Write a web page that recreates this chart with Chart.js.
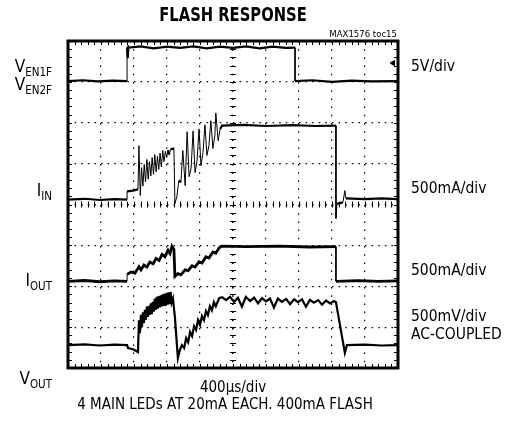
<!DOCTYPE html>
<html>
<head>
<meta charset="utf-8">
<title>Flash Response</title>
<script src="https://cdn.jsdelivr.net/npm/chart.js@4.4.1/dist/chart.umd.min.js"></script>
<style>
  body { margin: 0; background: #fff; }
  #wrap { position: relative; width: 507px; height: 427px; color: #000;
          font-family: "DejaVu Sans Condensed", "Liberation Sans Narrow", sans-serif; }
  #scope { position: absolute; left: 0; top: 0; }
  .lbl { position: absolute; white-space: nowrap; line-height: 1; font-size: 15.5px; }
  .lbl sub { font-size: 11.5px; vertical-align: -4px; line-height: 0; }
  .left { right: 455px; text-align: right; font-size: 17px; }
  .right { left: 411px; }
</style>
</head>
<body>
<div id="wrap">
  <canvas id="scope" width="507" height="427"></canvas>

  <div class="lbl" style="left:113px;width:240px;text-align:center;top:4px;font-size:20px;font-weight:bold;transform:scaleX(0.82)">FLASH RESPONSE</div>
  <div class="lbl" style="right:110px;top:29px;font-size:9.5px">MAX1576 toc15</div>

  <div class="lbl left" style="top:58px">V<sub>EN1F</sub></div>
  <div class="lbl left" style="top:76px">V<sub>EN2F</sub></div>
  <div class="lbl left" style="top:182px">I<sub>IN</sub></div>
  <div class="lbl left" style="top:272px">I<sub>OUT</sub></div>
  <div class="lbl left" style="top:370px">V<sub>OUT</sub></div>

  <div class="lbl right" style="top:59px">5V/div</div>
  <div class="lbl right" style="top:181px">500mA/div</div>
  <div class="lbl right" style="top:263px">500mA/div</div>
  <div class="lbl right" style="top:309px">500mV/div</div>
  <div class="lbl right" style="top:327px">AC-COUPLED</div>

  <div class="lbl" style="left:0;width:466px;text-align:center;top:380px;font-size:15px">400&micro;s/div</div>
  <div class="lbl" style="left:0;width:450px;text-align:center;top:397px;font-size:15px">4 MAIN LEDs AT 20mA EACH. 400mA FLASH</div>
</div>

<script>
// time in divisions (400us/div), level in divisions from the bottom of the screen

// VEN1F / VEN2F (5V/div)
const enTime  = [0, 0.45, 0.9, 1.35, 1.79, 1.79, 1.81, 1.83, 1.85, 2.2, 2.6, 3.0, 3.4, 3.8, 4.2, 4.6, 5.0, 5.4, 5.8, 6.2, 6.6, 6.88, 6.88, 7.4, 8.0, 8.6, 9.2, 10];
const enLevel = [7.02, 7.04, 7.01, 7.03, 7.02, 7.84, 7.58, 7.86, 7.84, 7.87, 7.82, 7.86, 7.83, 7.87, 7.82, 7.86, 7.83, 7.87, 7.82, 7.86, 7.83, 7.84, 7.02, 7.04, 7.00, 7.03, 7.01, 7.02];

// IIN (500mA/div)
const inTime  = [0, 0.5, 0.97, 1.4, 1.79, 1.79, 1.97, 2.12,
                 2.15, 2.19, 2.23, 2.27, 2.31, 2.35, 2.39, 2.43, 2.47, 2.51, 2.55, 2.59, 2.63, 2.67, 2.71, 2.75, 2.79, 2.83,
                 2.87, 2.91, 2.95, 2.99, 3.03, 3.07, 3.11, 3.18, 3.21,
                 3.24, 3.30, 3.36, 3.42, 3.48, 3.55, 3.61, 3.67, 3.73, 3.79, 3.85, 3.91, 3.97, 4.03, 4.09, 4.15, 4.21, 4.27,
                 4.33, 4.39, 4.45, 4.48, 4.55, 4.61, 4.67,
                 5.3, 6.0, 6.8, 7.5, 8.12, 8.12, 8.15, 8.33, 8.39, 8.42, 9.0, 9.5, 10];
const inLevel = [4.12, 4.14, 4.11, 4.13, 4.12, 4.32, 4.34, 4.37,
                 5.44, 4.22, 4.90, 4.45, 4.98, 4.55, 5.10, 4.62, 5.05, 4.70, 5.15, 4.74, 5.22, 4.80, 5.18, 4.86, 5.26, 4.92,
                 5.32, 5.05, 5.30, 5.15, 5.33, 5.22, 5.35, 5.37, 5.34,
                 4.02, 4.20, 4.59, 4.54, 5.32, 4.46, 5.78, 4.68, 4.88, 5.80, 4.78, 5.07, 5.85, 4.95, 5.27, 5.95, 5.20, 5.44,
                 6.05, 5.37, 5.68, 6.24, 5.56, 5.85, 5.93,
                 5.95, 5.92, 5.94, 5.92, 5.93, 3.66, 4.02, 4.05, 4.34, 4.15, 4.13, 4.15, 4.13];

// IOUT (500mA/div)
const outTime  = [0, 0.5, 0.97, 1.4, 1.79, 1.79, 1.91, 2.03, 2.15, 2.21, 2.30, 2.39, 2.48, 2.58, 2.67, 2.76, 2.85, 2.94,
                  3.03, 3.09, 3.15, 3.21, 3.24, 3.33, 3.42, 3.55, 3.64, 3.76, 3.85, 3.97, 4.06, 4.18, 4.27, 4.39, 4.48, 4.58,
                  4.67, 5.4, 6.42, 7.3, 8.12, 8.12, 8.8, 9.4, 10];
const outLevel = [2.12, 2.14, 2.11, 2.13, 2.12, 2.29, 2.35, 2.32, 2.48, 2.40, 2.52, 2.47, 2.59, 2.55, 2.68, 2.63, 2.78, 2.72,
                  2.88, 2.80, 2.98, 2.90, 2.24, 2.31, 2.28, 2.40, 2.38, 2.50, 2.47, 2.60, 2.57, 2.72, 2.69, 2.84, 2.81, 2.94,
                  2.98, 2.97, 2.98, 2.96, 2.97, 2.12, 2.14, 2.12, 2.13];

// VOUT (500mV/div, AC-coupled)
const voutTime  = [0, 0.5, 0.97, 1.4, 1.79, 1.82, 1.97, 2.12,
                   2.15, 2.18, 2.21, 2.24, 2.27, 2.30, 2.33, 2.36, 2.39, 2.42, 2.45, 2.48, 2.51, 2.54, 2.57, 2.60, 2.63, 2.66,
                   2.69, 2.72, 2.75, 2.78, 2.81, 2.84, 2.87, 2.90, 2.93, 2.96, 2.99, 3.02, 3.05, 3.08, 3.11, 3.14, 3.18,
                   3.24, 3.33, 3.39, 3.45, 3.52, 3.58, 3.64, 3.70, 3.76, 3.82, 3.88, 3.94, 4.00, 4.06, 4.12, 4.18, 4.24, 4.30,
                   4.36, 4.42, 4.48, 4.58,
                   4.67, 4.79, 4.91, 5.03, 5.15, 5.27, 5.39, 5.52, 5.64, 5.76, 5.88, 6.00, 6.12, 6.24, 6.36, 6.48, 6.61, 6.73,
                   6.85, 6.97, 7.09, 7.21, 7.33, 7.45, 7.58, 7.70, 7.82, 7.94, 8.06, 8.12,
                   8.39, 8.45, 9.0, 9.5, 10];
const voutLevel = [0.56, 0.58, 0.55, 0.57, 0.56, 0.49, 0.46, 0.39,
                   1.17, 0.85, 1.30, 1.00, 1.36, 1.10, 1.42, 1.18, 1.50, 1.25, 1.52, 1.30, 1.58, 1.32, 1.62, 1.38, 1.70, 1.42,
                   1.74, 1.45, 1.76, 1.48, 1.78, 1.50, 1.80, 1.52, 1.82, 1.52, 1.84, 1.55, 1.85, 1.56, 1.86, 1.60, 1.70,
                   1.24, 0.24, 0.44, 0.56, 0.49, 0.73, 0.63, 0.88, 0.78, 1.02, 0.93, 1.17, 1.05, 1.27, 1.17, 1.39, 1.29, 1.51,
                   1.41, 1.61, 1.51, 1.71,
                   1.73, 1.66, 1.74, 1.62, 1.72, 1.50, 1.74, 1.64, 1.72, 1.58, 1.71, 1.63, 1.70, 1.48, 1.70, 1.62, 1.69, 1.56,
                   1.68, 1.61, 1.68, 1.50, 1.67, 1.60, 1.66, 1.55, 1.65, 1.58, 1.64, 1.61,
                   0.37, 0.56, 0.57, 0.55, 0.56];

// trigger level marker on the right edge
const trigTime  = [9.85];
const trigLevel = [7.46];

const toPoints = (t, v) => t.map((x, i) => ({ x: x, y: v[i] }));

// vertical edges are thin, the rest of a trace keeps its width
function traceWidth(thick, steep) {
  return ctx => {
    const dx = Math.abs(ctx.p1.parsed.x - ctx.p0.parsed.x);
    const dy = Math.abs(ctx.p1.parsed.y - ctx.p0.parsed.y);
    if (dx < 0.02) return 1;
    if (steep && dy / dx > steep) return 1;
    return thick;
  };
}

function trace(t, v, thick, steep) {
  return {
    data: toPoints(t, v),
    borderColor: '#000',
    borderWidth: thick,
    pointRadius: 0,
    tension: 0,
    segment: { borderWidth: traceWidth(thick, steep) }
  };
}

// centre-line crosses, edge ticks and the heavy frame
const graticule = {
  id: 'graticule',
  beforeDatasetsDraw(chart) {
    const { ctx, chartArea: a, scales: { x, y } } = chart;
    const cx = x.getPixelForValue(5);
    const cy = y.getPixelForValue(4);
    ctx.save();
    ctx.strokeStyle = '#000';
    ctx.lineWidth = 1;
    ctx.beginPath();
    for (let k = 0; k <= 50; k++) {
      const px = Math.round(x.getPixelForValue(k / 5)) + 0.5;
      ctx.moveTo(px, cy - 3); ctx.lineTo(px, cy + 3);
      ctx.moveTo(px, a.bottom); ctx.lineTo(px, a.bottom - 4);
      ctx.moveTo(px, a.top); ctx.lineTo(px, a.top + 4);
    }
    for (let k = 0; k <= 40; k++) {
      const py = Math.round(y.getPixelForValue(k / 5)) + 0.5;
      ctx.moveTo(cx - 3, py); ctx.lineTo(cx + 3, py);
      ctx.moveTo(a.left, py); ctx.lineTo(a.left + 4, py);
      ctx.moveTo(a.right, py); ctx.lineTo(a.right - 4, py);
    }
    ctx.stroke();
    ctx.restore();
  },
  afterDatasetsDraw(chart) {
    const { ctx, chartArea: a } = chart;
    ctx.save();
    ctx.strokeStyle = '#000';
    ctx.lineWidth = 3;
    ctx.strokeRect(a.left, a.top, a.right - a.left, a.bottom - a.top);
    ctx.restore();
  }
};

new Chart(document.getElementById('scope'), {
  type: 'line',
  data: {
    datasets: [
      trace(enTime, enLevel, 2.2),
      trace(inTime, inLevel, 2.2, 3),
      trace(outTime, outLevel, 2.8),
      trace(voutTime, voutLevel, 2.2),
      {
        data: toPoints(trigTime, trigLevel),
        showLine: false,
        pointStyle: 'triangle',
        rotation: -90,
        pointRadius: 3,
        borderColor: '#000',
        backgroundColor: '#000'
      }
    ]
  },
  options: {
    responsive: false,
    animation: false,
    events: [],
    layout: { padding: { left: 68, right: 109, top: 41, bottom: 59 } },
    plugins: { legend: { display: false }, tooltip: { enabled: false }, title: { display: false } },
    scales: {
      x: {
        type: 'linear', min: 0, max: 10,
        ticks: { display: false, stepSize: 1 },
        grid: { color: '#000', drawTicks: false, lineWidth: c => c.tick.value === 5 ? 1.6 : 1.2 },
        border: { display: false, dash: [1.5, 6.7] }
      },
      y: {
        type: 'linear', min: 0, max: 8,
        ticks: { display: false, stepSize: 1 },
        grid: { color: '#000', drawTicks: false, lineWidth: c => c.tick.value === 4 ? 1.6 : 1.2 },
        border: { display: false, dash: [1.5, 5.1] }
      }
    }
  },
  plugins: [graticule]
});
</script>
</body>
</html>
